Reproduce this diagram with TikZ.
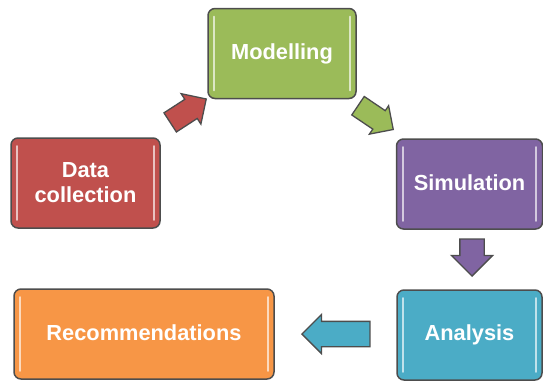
\documentclass[tikz,border=0pt]{standalone}
\usepackage{fontspec}
\setmainfont{Liberation Sans}
\usetikzlibrary{shapes.arrows}
\definecolor{cgreen}{HTML}{9BBB59}
\definecolor{cred}{HTML}{C0504D}
\definecolor{cpurple}{HTML}{8064A2}
\definecolor{cblue}{HTML}{4BACC6}
\definecolor{corange}{HTML}{F79646}
\definecolor{edge}{HTML}{4D4D4D}
\tikzset{
  stagebox/.style={draw=edge, line width=1.5pt, rounded corners=7pt, fill=#1,
    minimum height=90pt, inner sep=0pt, text=white,
    font=\fontsize{21.8}{25}\selectfont\bfseries, align=center},
  blockarrow/.style={single arrow, draw=edge, line width=1.3pt, fill=#1,
    inner xsep=0pt, minimum width=0pt, anchor=tip},
  shine/.style={line width=2.2pt, line cap=round, draw=#1}
}
\newcommand{\highlights}[2]{%
  \draw[shine=#2] ([xshift=7pt,yshift=-9pt]#1.north west) -- ([xshift=7pt,yshift=9pt]#1.south west);
  \draw[shine=#2] ([xshift=-7pt,yshift=-9pt]#1.north east) -- ([xshift=-7pt,yshift=9pt]#1.south east);}
\begin{document}
\begin{tikzpicture}[x=1pt,y=-1pt]
\useasboundingbox (0,0) rectangle (543,383);
\node[stagebox=cgreen, minimum width=148pt] (model) at (282,53.5) {\raisebox{3pt}{Modelling}};
\node[stagebox=cred, minimum width=149pt] (data) at (85.5,183) {Data\\collection};
\node[stagebox=cpurple, minimum width=146pt] (sim) at (469.5,184) {\raisebox{2pt}{Simulation}};
\node[stagebox=cblue, minimum width=145pt] (ana) at (469.5,335) {\raisebox{1pt}{Analysis}};
\node[stagebox=corange, minimum width=260pt] (rec) at (144,334) {\raisebox{2pt}{Recommendations}};
\highlights{model}{cgreen!35!white}
\highlights{data}{cred!35!white}
\highlights{sim}{cpurple!35!white}
\highlights{ana}{cblue!35!white}
\highlights{rec}{corange!35!white}
\node[blockarrow=cred, minimum height=43pt, rotate=33, inner ysep=10.75pt, single arrow head extend=6.75pt] (a1) at (207,98.5) {};
\node[blockarrow=cgreen, minimum height=42.5pt, rotate=-34, inner ysep=10.5pt, single arrow head extend=6pt] (a2) at (394,130) {};
\node[blockarrow=cpurple, minimum height=37pt, rotate=-90, inner ysep=11.5pt, single arrow head extend=8.5pt] (a3) at (472,277) {};
\node[blockarrow=cblue, minimum height=68pt, rotate=180, inner ysep=12pt, single arrow head extend=7pt] (a4) at (301,334) {};
\end{tikzpicture}
\end{document}
